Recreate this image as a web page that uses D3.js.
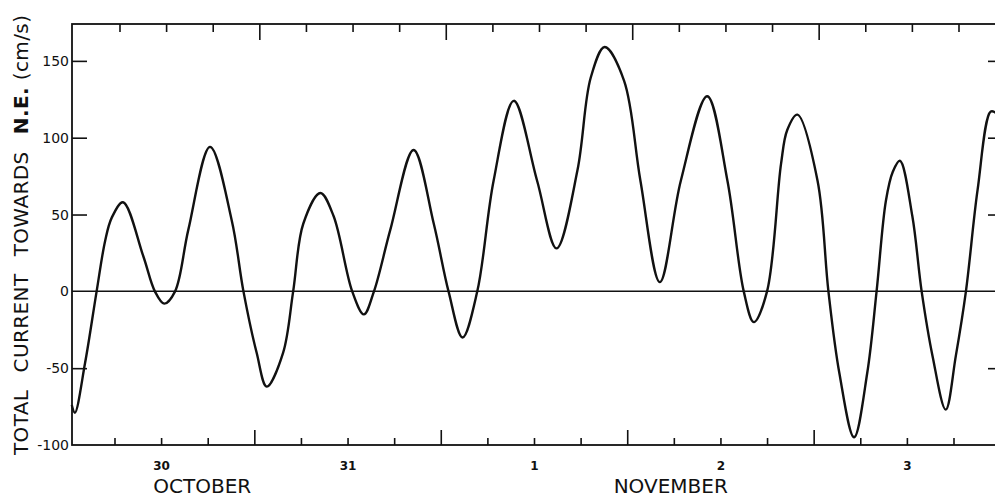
<!DOCTYPE html>
<html>
<head>
<meta charset="utf-8">
<script src="https://cdn.jsdelivr.net/npm/d3@7"></script>
<style>
    html, body { margin: 0; padding: 0; background: #fff; }
    svg { display: block; font-family: "DejaVu Sans", sans-serif; }
</style>
</head>
<body>
<div id="chart"></div>
<script>
// Time in hours from 30 October 00:00, current in cm/s (positive = towards N.E.)
const hours = [
    -11.5, -11.1, -9.8, -8.3, -7.2, -6.35, -4.9, -2.3, -0.8, 0.4, 1.8, 3.5, 6.3, 9.1, 10.6,
    12.3, 13.6, 15.7, 17.0, 18.3, 20.5, 22.2, 24.6, 26.1, 27.4, 29.5, 32.5, 35.1,
    37.0, 38.8, 40.7, 42.8, 45.4, 48.4, 50.9, 53.6, 55.3, 57.1, 59.6, 61.7, 64.2,
    66.9, 70.3, 72.9, 75.0, 76.3, 78.0, 79.8, 80.6, 81.9, 84.5, 85.9, 87.3, 89.2, 90.9,
    92.1, 93.3, 94.2, 95.1, 96.7, 97.9, 99.3, 101.0, 102.3, 103.6, 105.1, 106.8, 107.5
];
const current = [
    -74, -79, -47, 0, 33, 48, 58, 23, 0, -8, 0, 40, 94, 46, 0,
    -40, -62, -40, 0, 44, 64, 49, 0, -15, 0, 40, 92, 44,
    0, -30, 0, 72, 124, 72, 28, 79, 139, 159, 137, 72, 6,
    72, 127, 72, 0, -20, 0, 83, 105, 115, 72, 0, -53, -95, -53,
    0, 59, 78, 85, 49, 0, -42, -77, -42, 0, 66, 117, 116
];

const dayTickHours = [0, 24, 48, 72, 96];
const dayLabels = ['30', '31', '1', '2', '3'];
const monthLabels = ['OCTOBER', 'NOVEMBER'];
const monthCentreHours = [5.3, 65.6];
const yTickValues = [150, 100, 50, 0, -50, -100];
const yInnerTicks = [150, 100, 50, -50];
const timeDomain = [-11.47, 107.6];
const currentDomain = [-100, 174];

const WIDTH = 995;
const HEIGHT = 497;
const PLOT = { left: 72, right: 997, top: 24, bottom: 445 };
const TOP_SKEW = 5; // the scanned top edge sits a few px right of the bottom one

const svg = d3.select('#chart')
    .append('svg')
    .attr('width', WIDTH)
    .attr('height', HEIGHT);

const x = d3.scaleLinear().domain(timeDomain).range([PLOT.left, PLOT.right]);
const xTop = d3.scaleLinear().domain(timeDomain).range([PLOT.left + TOP_SKEW, PLOT.right + TOP_SKEW]);
const y = d3.scaleLinear().domain(currentDomain).range([PLOT.bottom, PLOT.top]);

const sixHourly = d3.range(-6, 108, 6);
const noonTicks = sixHourly.filter(h => ((h % 24) + 24) % 24 === 12);
const shortTicks = sixHourly.filter(h => !noonTicks.includes(h));

function styleAxis(g) {
    g.select('.domain').remove();
    g.selectAll('.tick line').attr('stroke', '#111').attr('stroke-width', 1.6);
    g.selectAll('.tick text').attr('fill', '#111');
}

// bottom axis ticks (pointing up into the plot)
svg.append('g')
    .attr('transform', `translate(0,${PLOT.bottom})`)
    .call(d3.axisTop(x).tickValues(shortTicks).tickSize(7).tickFormat(''))
    .call(styleAxis);
svg.append('g')
    .attr('transform', `translate(0,${PLOT.bottom})`)
    .call(d3.axisTop(x).tickValues(noonTicks).tickSize(15).tickFormat(''))
    .call(styleAxis);

// top axis ticks (pointing down)
svg.append('g')
    .attr('transform', `translate(0,${PLOT.top})`)
    .call(d3.axisBottom(xTop).tickValues(shortTicks).tickSize(8).tickFormat(''))
    .call(styleAxis);
svg.append('g')
    .attr('transform', `translate(0,${PLOT.top})`)
    .call(d3.axisBottom(xTop).tickValues(noonTicks).tickSize(16).tickFormat(''))
    .call(styleAxis);

// day labels
svg.append('g')
    .attr('transform', `translate(0,${PLOT.bottom})`)
    .call(d3.axisBottom(x).tickValues(dayTickHours).tickSize(0).tickPadding(16)
        .tickFormat((d, i) => dayLabels[i]))
    .call(styleAxis)
    .selectAll('text')
    .attr('font-size', 12)
    .attr('font-weight', 'bold')
    .attr('font-family', '"DejaVu Sans", sans-serif');

// month labels
svg.append('g')
    .selectAll('text')
    .data(monthLabels)
    .join('text')
    .attr('x', (d, i) => x(monthCentreHours[i]))
    .attr('y', 493)
    .attr('text-anchor', 'middle')
    .attr('font-size', 20)
    .attr('fill', '#111')
    .text(d => d);

// left axis: inward ticks, labels outside
svg.append('g')
    .attr('transform', `translate(${PLOT.left},0)`)
    .call(d3.axisLeft(y).tickValues(yInnerTicks).tickSize(-15).tickFormat(''))
    .call(styleAxis);
svg.append('g')
    .attr('transform', `translate(${PLOT.left},0)`)
    .call(d3.axisLeft(y).tickValues(yTickValues).tickSize(0).tickPadding(3)
        .tickFormat(d => String(d)))
    .call(styleAxis)
    .selectAll('text')
    .attr('font-size', 14)
    .attr('font-family', '"DejaVu Sans", sans-serif');

// right axis: short inward ticks
svg.append('g')
    .attr('transform', `translate(${PLOT.right},0)`)
    .call(d3.axisLeft(y).tickValues(yInnerTicks).tickSize(9).tickFormat(''))
    .call(styleAxis);

// frame
svg.append('rect')
    .attr('x', PLOT.left)
    .attr('y', PLOT.top)
    .attr('width', PLOT.right - PLOT.left)
    .attr('height', PLOT.bottom - PLOT.top)
    .attr('fill', 'none')
    .attr('stroke', '#111')
    .attr('stroke-width', 1.8);

// zero line
svg.append('line')
    .attr('x1', PLOT.left)
    .attr('x2', PLOT.right)
    .attr('y1', y(0))
    .attr('y2', y(0))
    .attr('stroke', '#111')
    .attr('stroke-width', 1.5);

// current trace
const series = hours.map((h, i) => ({ h, v: current[i] }));
const line = d3.line()
    .x(d => x(d.h))
    .y(d => y(d.v))
    .curve(d3.curveCatmullRom.alpha(0.5));

svg.append('path')
    .datum(series)
    .attr('d', line)
    .attr('fill', 'none')
    .attr('stroke', '#111')
    .attr('stroke-width', 2.4)
    .attr('stroke-linejoin', 'round');

// y axis title, rotated
const title = svg.append('text')
    .attr('transform', 'translate(28,455) rotate(-90)')
    .attr('font-size', 20)
    .attr('fill', '#111')
    .attr('textLength', 440)
    .attr('lengthAdjust', 'spacing');
title.append('tspan').text('TOTAL\u2002 CURRENT\u2002 TOWARDS\u2002 ');
title.append('tspan').attr('font-weight', 'bold').text('N.E.');
title.append('tspan').text(' (cm/s)');
</script>
</body>
</html>
